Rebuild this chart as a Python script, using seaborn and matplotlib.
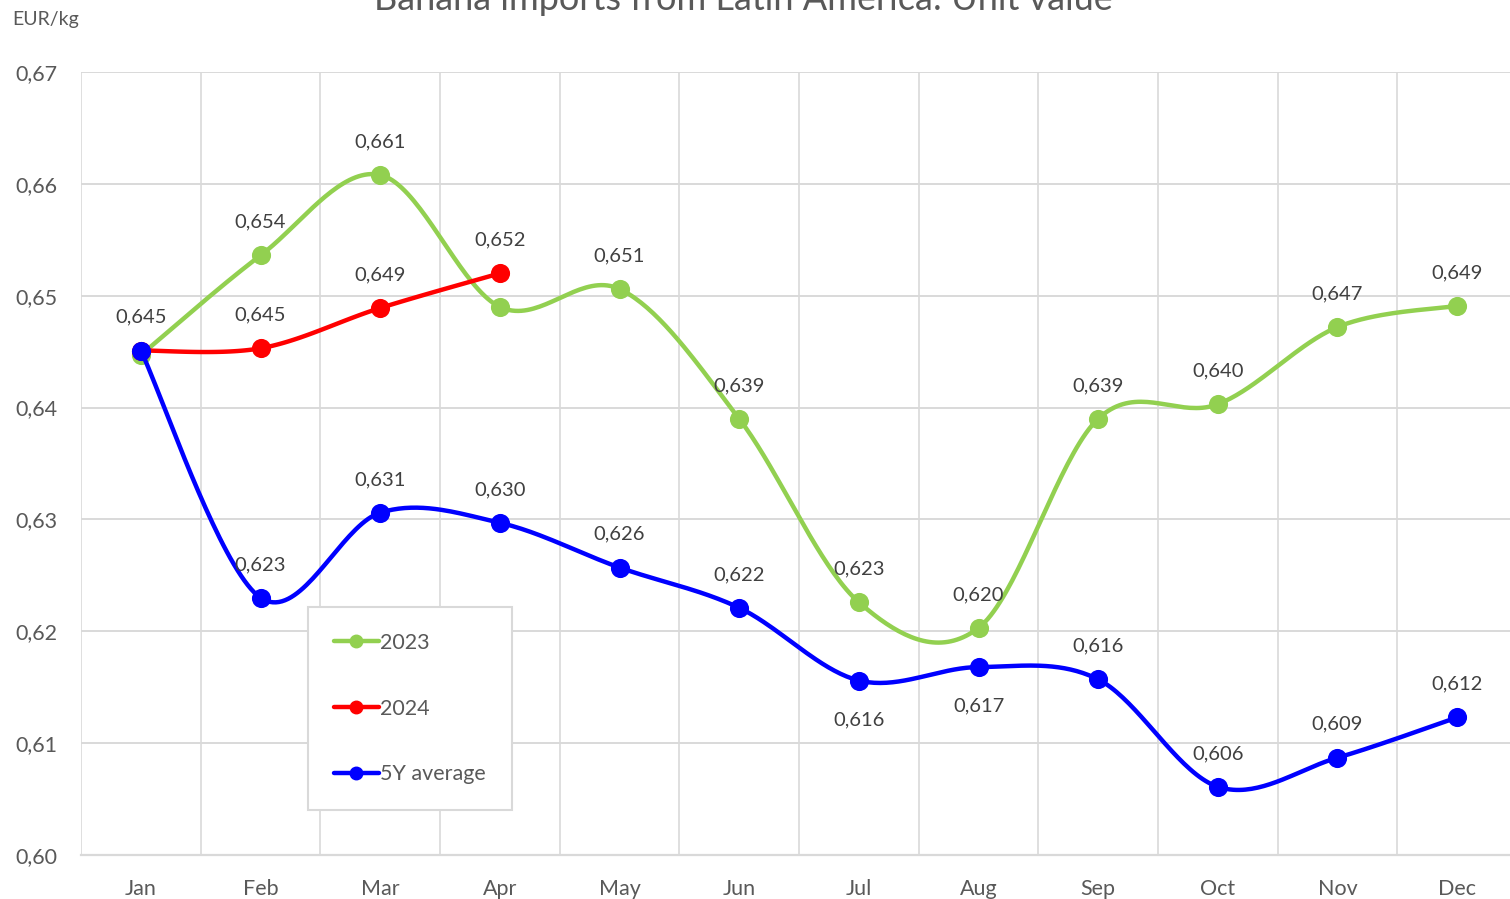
import numpy as np
import pandas as pd
import matplotlib
matplotlib.use("Agg")
import matplotlib.pyplot as plt
from matplotlib.lines import Line2D
from matplotlib.ticker import FuncFormatter, MultipleLocator
import seaborn as sns

# ---------------- data ----------------
months = ["Jan", "Feb", "Mar", "Apr", "May", "Jun", "Jul", "Aug", "Sep", "Oct", "Nov", "Dec"]
values_2023 = [0.6447, 0.6536, 0.6608, 0.6490, 0.6506, 0.6390, 0.6226, 0.6203, 0.6390, 0.6403, 0.6472, 0.6491]
values_2024 = [0.6451, 0.6453, 0.6489, 0.6520]
values_5y = [0.6451, 0.6230, 0.6306, 0.6297, 0.6257, 0.6221, 0.6156, 0.6168, 0.6157, 0.6061, 0.6087, 0.6123]
series_names = ["2023", "2024", "5Y average"]
title = "Banana imports from Latin America: Unit value"
unit_label = "EUR/kg"

# ---------------- style ----------------
colors = {"2023": "#92D050", "2024": "#FF0000", "5Y average": "#0000FF"}
# label placement per series: +1 above, -1 below, 0 none
label_pos = {
    "2023": [0, 1, 1, 0, 1, 1, 1, 1, 1, 1, 1, 1],
    "2024": [0, 1, 1, 1],
    "5Y average": [1, 1, 1, 1, 1, 1, -1, -1, 1, 1, 1, 1],
}
FONT = ["Lato", "DejaVu Sans"]
GRID = "#D9D9D9"
TXT = "#595959"
LBL = "#404040"

sns.set_theme(style="white")
plt.rcParams["font.family"] = FONT


def smooth(xs, ys, n=40):
    """Excel-like smoothed line (Catmull-Rom Bezier) through the given points."""
    P = np.column_stack([xs, ys]).astype(float)
    if len(P) < 3:
        return P[:, 0], P[:, 1]
    ext = np.vstack([P[0], P, P[-1]])
    out = []
    t = np.linspace(0, 1, n)[:, None]
    for i in range(1, len(ext) - 2):
        p0, p1, p2, p3 = ext[i - 1], ext[i], ext[i + 1], ext[i + 2]
        c1 = p1 + (p2 - p0) / 6.0
        c2 = p2 - (p3 - p1) / 6.0
        seg = ((1 - t) ** 3) * p1 + 3 * ((1 - t) ** 2) * t * c1 + 3 * (1 - t) * t ** 2 * c2 + t ** 3 * p2
        out.append(seg if i == 1 else seg[1:])
    arr = np.vstack(out)
    return arr[:, 0], arr[:, 1]


W, H = 1510, 899
fig = plt.figure(figsize=(W / 100, H / 100), dpi=100)
ax = fig.add_axes([81 / W, 1 - 855 / H, 1436 / W, 783 / H])

all_series = {"2023": values_2023, "2024": values_2024, "5Y average": values_5y}
z = 3
for name in series_names:
    vals = all_series[name]
    df = pd.DataFrame({"pos": np.arange(len(vals)), "value": vals})
    sx, sy = smooth(df["pos"].values, df["value"].values)
    sns.lineplot(x=sx, y=sy, sort=False, color=colors[name], linewidth=3.2, ax=ax, zorder=z)
    sns.scatterplot(data=df, x="pos", y="value", color=colors[name], s=190, linewidth=0,
                    ax=ax, zorder=z + 0.5, legend=False)
    for i, v in enumerate(vals):
        p = label_pos[name][i]
        if p == 0:
            continue
        ax.annotate(f"{v:.3f}".replace(".", ","), (i, v), xytext=(0, 24 if p > 0 else -28),
                    textcoords="offset points", ha="center", va="center",
                    fontsize=14.5, color=LBL, zorder=10)
    z += 1

ax.set_xlim(-0.5, 11.5)
ax.set_ylim(0.60, 0.67)
ax.set_xticks(range(len(months)))
ax.set_xticklabels(months)
ax.xaxis.set_minor_locator(MultipleLocator(1, offset=0.5))
ax.yaxis.set_major_locator(MultipleLocator(0.01))
ax.yaxis.set_major_formatter(FuncFormatter(lambda v, p: f"{v:.2f}".replace(".", ",")))
ax.grid(axis="y", which="major", color=GRID, linewidth=1.4)
ax.grid(axis="x", which="minor", color=GRID, linewidth=1.2)
ax.grid(axis="x", which="major", visible=False)
ax.set_axisbelow(True)
for s in ["top", "right", "left"]:
    ax.spines[s].set_visible(False)
ax.spines["bottom"].set_color(GRID)
ax.spines["bottom"].set_linewidth(1.6)
ax.tick_params(axis="both", which="both", length=0, labelsize=15.5, colors=TXT)
ax.tick_params(axis="y", pad=17)
ax.tick_params(axis="x", pad=17)
ax.set_xlabel("")
ax.set_ylabel("")

handles = [Line2D([0], [0], color=colors[n], lw=3.2, marker="o", markersize=9) for n in series_names]
leg = ax.legend(handles, series_names, loc="lower left", bbox_to_anchor=(0.158, 0.0575),
                frameon=True, fancybox=False, edgecolor=GRID, fontsize=15.5,
                labelspacing=2.12, handlelength=2.1, handletextpad=0.05,
                borderpad=1.2, borderaxespad=0, framealpha=1)
leg.get_frame().set_linewidth(1.5)
for t in leg.get_texts():
    t.set_color(TXT)

fig.text(743 / W, 1 - 10 / H, title, ha="center", va="baseline", fontsize=26, color=TXT)
fig.text(12 / W, 1 - 20 / H, unit_label, ha="left", va="center", fontsize=14, color=TXT)

fig.savefig("out.png", dpi=100)
